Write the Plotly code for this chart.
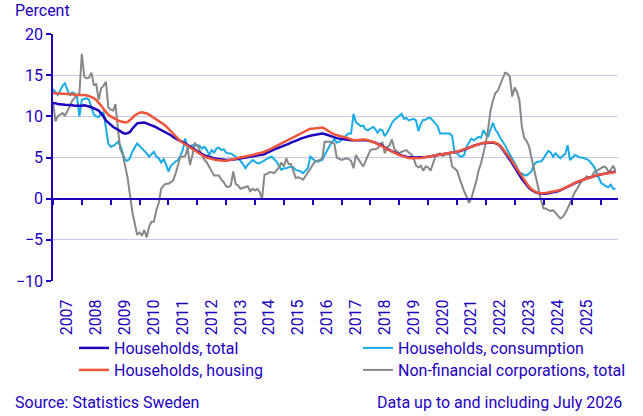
import pandas as pd
import plotly.graph_objects as go

months = pd.date_range("2007-01-01", "2026-07-01", freq="MS")

households_total = [
    11.6, 11.6, 11.5, 11.5, 11.45, 11.4, 11.4, 11.4, 11.35, 11.3, 11.3, 11.25,
    11.3, 11.35, 11.3, 11.2, 11.1, 11.0, 10.85, 10.7, 10.4, 10.0, 9.5, 9.2,
    8.9, 8.7, 8.55, 8.4, 8.2, 8.0, 7.9, 7.95, 8.1, 8.5, 8.9, 9.15,
    9.2, 9.25, 9.25, 9.15, 9.0, 8.9, 8.8, 8.65, 8.5, 8.35, 8.15, 8.0,
    7.85, 7.7, 7.5, 7.3, 7.15, 7.0, 6.9, 6.7, 6.5, 6.3, 6.1, 5.95,
    5.75, 5.55, 5.4, 5.25, 5.15, 5.05, 5.0, 4.9, 4.85, 4.8, 4.75, 4.7,
    4.7, 4.7, 4.7, 4.75, 4.8, 4.85, 4.9, 4.95, 5.0, 5.05, 5.1, 5.1,
    5.15, 5.2, 5.25, 5.3, 5.4, 5.55, 5.7, 5.85, 6.0, 6.1, 6.2, 6.3,
    6.4, 6.5, 6.65, 6.8, 6.9, 7.0, 7.15, 7.3, 7.4, 7.5, 7.6, 7.65,
    7.7, 7.75, 7.8, 7.9, 7.9, 7.85, 7.75, 7.6, 7.5, 7.4, 7.35, 7.3,
    7.25, 7.2, 7.15, 7.1, 7.1, 7.1, 7.1, 7.15, 7.15, 7.15, 7.1, 7.05,
    7.0, 6.9, 6.8, 6.7, 6.55, 6.4, 6.2, 6.05, 5.9, 5.75, 5.6, 5.45,
    5.35, 5.25, 5.15, 5.1, 5.05, 5.0, 5.0, 5.0, 5.0, 5.0, 5.05, 5.05,
    5.1, 5.15, 5.2, 5.25, 5.3, 5.35, 5.4, 5.45, 5.5, 5.5, 5.55, 5.6,
    5.65, 5.75, 5.85, 5.95, 6.05, 6.2, 6.3, 6.45, 6.55, 6.65, 6.7, 6.75,
    6.75, 6.8, 6.8, 6.8, 6.75, 6.6, 6.4, 6.0, 5.6, 5.2, 4.8, 4.3,
    3.8, 3.4, 2.9, 2.4, 2.0, 1.6, 1.3, 1.05, 0.85, 0.75, 0.65, 0.6,
    0.6, 0.6, 0.65, 0.7, 0.75, 0.8, 0.9, 1.0, 1.15, 1.3, 1.5, 1.65,
    1.8, 1.9, 2.0, 2.1, 2.25, 2.35, 2.45, 2.55, 2.65, 2.75, 2.85, 2.9,
    2.95, 3.0, 3.05, 3.1, 3.15, 3.2, 3.3,
]

households_consumption = [
    13.3, 12.9, 12.6, 13.1, 13.7, 14.0, 13.2, 12.5, 12.9, 12.8, 12.4, 10.0,
    12.0, 12.1, 12.2, 12.0, 11.2, 10.2, 10.0, 9.9, 10.4, 10.5, 8.6, 6.7,
    6.3, 6.4, 6.6, 6.9, 6.5, 5.6, 4.7, 4.6, 4.9, 5.7, 6.3, 6.7,
    6.4, 6.1, 5.9, 5.5, 5.1, 5.4, 5.7, 5.1, 4.9, 4.4, 4.8, 4.2,
    3.3, 4.0, 4.3, 4.5, 4.7, 5.2, 5.9, 7.3, 6.1, 6.3, 6.5, 6.4,
    6.5, 6.4, 6.1, 6.3, 5.9, 5.3, 5.9, 5.6, 6.1, 6.2, 5.9, 6.0,
    5.6, 5.5, 5.5, 5.3, 5.1, 4.9, 4.6, 4.2, 3.7, 4.1, 4.4, 4.7,
    4.5, 4.3, 4.3, 4.5, 4.7, 4.9, 5.0, 5.1, 4.8, 4.5, 4.0, 3.5,
    3.7, 3.7, 3.8, 3.9, 3.8, 3.5, 3.4, 3.3, 3.1, 3.4, 3.7, 5.1,
    4.8, 4.6, 4.5, 4.6, 4.7, 5.3, 5.8, 6.4, 6.9, 7.2, 6.8, 6.9,
    7.1, 7.4, 7.7, 7.9, 7.9, 10.3, 9.3, 9.1, 8.8, 8.9, 8.4, 8.3,
    8.5, 8.7, 8.5, 8.0, 8.4, 8.3, 7.6, 8.0, 8.6, 9.2, 9.6, 9.8,
    10.0, 10.3, 9.7, 9.8, 9.5, 9.6, 9.7, 9.5, 8.2, 9.1, 9.6, 9.6,
    9.8, 9.8, 9.5, 9.2, 8.8, 7.9, 7.9, 7.9, 7.9, 7.9, 7.6, 5.6,
    5.5, 5.2, 5.1, 5.3, 6.3, 6.9, 7.3, 7.1, 7.3, 7.5, 7.4, 8.3,
    7.8, 7.6, 8.4, 9.2, 8.4, 8.0, 7.4, 7.0, 6.5, 5.9, 5.4, 4.8,
    4.4, 3.8, 3.2, 3.0, 2.9, 2.8, 3.0, 3.3, 4.1, 4.4, 4.5, 4.5,
    4.9, 5.3, 5.8, 5.6, 5.1, 5.5, 5.2, 4.9, 5.2, 5.4, 6.5, 4.7,
    5.0, 5.3, 5.2, 5.0, 5.0, 4.9, 4.8, 4.6, 4.3, 3.9, 3.2, 2.5,
    1.9, 1.7, 1.5, 1.4, 1.7, 1.2, 1.2,
]

households_housing = [
    12.85, 12.8, 12.8, 12.75, 12.75, 12.7, 12.7, 12.7, 12.65, 12.65, 12.6, 12.6,
    12.6, 12.6, 12.55, 12.45, 12.35, 12.2, 12.0, 11.7, 11.3, 10.9, 10.5, 10.2,
    10.0, 9.8, 9.6, 9.5, 9.4, 9.3, 9.25, 9.3, 9.5, 9.8, 10.1, 10.3,
    10.45, 10.5, 10.45, 10.35, 10.2, 10.0, 9.85, 9.7, 9.5, 9.3, 9.05, 8.8,
    8.5, 8.2, 7.9, 7.55, 7.25, 7.0, 6.8, 6.6, 6.4, 6.2, 6.0, 5.8,
    5.6, 5.4, 5.25, 5.1, 5.0, 4.9, 4.8, 4.75, 4.7, 4.65, 4.6, 4.6,
    4.6, 4.65, 4.7, 4.8, 4.85, 4.95, 5.0, 5.05, 5.15, 5.2, 5.25, 5.3,
    5.4, 5.45, 5.5, 5.6, 5.7, 5.8, 5.95, 6.1, 6.25, 6.4, 6.55, 6.7,
    6.85, 7.0, 7.15, 7.3, 7.5, 7.65, 7.8, 7.95, 8.1, 8.25, 8.4, 8.5,
    8.5, 8.55, 8.6, 8.65, 8.65, 8.5, 8.3, 8.1, 7.95, 7.8, 7.7, 7.6,
    7.55, 7.5, 7.4, 7.3, 7.2, 7.1, 7.1, 7.15, 7.2, 7.2, 7.15, 7.1,
    7.0, 6.9, 6.8, 6.65, 6.5, 6.35, 6.15, 6.0, 5.85, 5.7, 5.55, 5.4,
    5.3, 5.2, 5.1, 5.0, 4.95, 4.9, 4.9, 4.9, 4.9, 4.95, 5.0, 5.05,
    5.1, 5.1, 5.15, 5.2, 5.25, 5.3, 5.35, 5.4, 5.45, 5.5, 5.55, 5.6,
    5.7, 5.8, 5.9, 6.0, 6.1, 6.2, 6.35, 6.45, 6.55, 6.65, 6.7, 6.75,
    6.8, 6.85, 6.85, 6.85, 6.8, 6.65, 6.45, 6.1, 5.75, 5.35, 4.95, 4.5,
    4.05, 3.6, 3.1, 2.65, 2.2, 1.8, 1.45, 1.15, 0.95, 0.8, 0.7, 0.65,
    0.65, 0.7, 0.75, 0.8, 0.85, 0.9, 0.95, 1.05, 1.2, 1.35, 1.5, 1.65,
    1.8, 1.9, 2.05, 2.15, 2.25, 2.4, 2.5, 2.6, 2.7, 2.8, 2.85, 2.9,
    2.95, 3.0, 3.05, 3.1, 3.15, 3.2, 3.25,
]

nonfinancial_corporations = [
    11.8, 9.4, 10.0, 10.2, 10.4, 10.1, 10.6, 11.2, 11.9, 12.3, 12.6, 12.8,
    17.6, 14.8, 14.6, 14.7, 15.3, 13.8, 13.9, 12.0, 13.4, 13.7, 14.2, 11.1,
    10.8, 10.7, 11.5, 8.6, 6.0, 5.4, 4.0, 2.6, 0.5, -1.6, -3.0, -4.4,
    -4.1, -4.5, -3.8, -4.7, -3.4, -2.8, -2.8, -1.4, -0.5, 1.2, 1.6, 1.8,
    1.8, 2.0, 2.2, 3.0, 4.1, 5.1, 5.1, 5.2, 6.1, 4.1, 5.3, 6.7,
    6.5, 5.9, 5.2, 4.7, 4.4, 3.8, 3.2, 2.8, 2.8, 2.8, 2.3, 2.0,
    1.5, 1.4, 1.6, 3.3, 1.8, 1.6, 1.2, 1.3, 1.4, 1.5, 0.9, 1.2,
    1.0, 1.2, 0.8, 0.0, 2.9, 3.0, 3.2, 3.2, 3.1, 3.4, 3.8, 4.4,
    3.9, 4.9, 4.2, 4.2, 3.3, 2.5, 2.6, 2.5, 2.3, 2.7, 3.2, 3.6,
    4.1, 4.5, 4.6, 4.7, 4.9, 6.9, 6.9, 6.9, 6.8, 6.7, 5.0, 4.8,
    4.7, 4.8, 4.9, 4.8, 4.6, 3.7, 5.3, 4.8, 4.4, 3.9, 4.6, 5.3,
    5.9, 6.0, 6.0, 6.1, 6.5, 6.9, 5.5, 6.2, 6.5, 7.2, 6.0, 5.7,
    5.5, 5.7, 5.8, 5.9, 5.6, 5.4, 5.0, 4.0, 3.8, 4.0, 3.4, 3.9,
    3.8, 3.4, 4.2, 5.1, 5.4, 5.5, 5.2, 5.3, 5.4, 5.5, 3.9, 3.6,
    3.4, 2.5, 1.6, 0.9, 0.3, -0.5, 0.0, 1.0, 2.1, 3.4, 4.3, 5.5,
    6.8, 8.6, 10.7, 11.9, 12.8, 13.1, 13.8, 14.5, 15.3, 15.2, 14.8, 12.4,
    13.5, 12.9, 12.0, 8.8, 7.4, 7.0, 6.4, 5.0, 3.6, 2.3, 1.0, -0.2,
    -1.2, -1.2, -1.4, -1.5, -1.4, -1.7, -2.0, -2.4, -2.2, -1.8, -1.2, -0.5,
    0.1, 0.8, 1.2, 1.8, 2.2, 2.4, 2.7, 2.6, 2.6, 3.2, 3.4, 3.6,
    3.7, 3.9, 3.8, 3.3, 3.5, 4.0, 3.4,
]

year_labels = [str(y) for y in range(2007, 2026)]
label_positions = [f"{y}-07-01" for y in range(2007, 2026)]
tick_positions = [f"{y}-01-01" for y in range(2007, 2027)]

TEXT = "#1E00BE"
GRID = "#C8C8EE"
FONT = "Roboto"
FS = 16

fig = go.Figure()
# (name, values, colour, width, legend id)
series = [
    ("Households, consumption", households_consumption, "#19ABE6", 2.0, "legend2"),
    ("Non-financial corporations, total", nonfinancial_corporations, "#878787", 2.0, "legend4"),
    ("Households, total", households_total, "#1E00BE", 2.5, "legend"),
    ("Households, housing", households_housing, "#F0553C", 2.5, "legend3"),
]
for name, vals, color, w, leg in series:
    fig.add_trace(go.Scatter(
        x=months, y=vals, name=name, mode="lines",
        line=dict(color=color, width=w), legend=leg,
    ))

# invisible trace for the zero-line axis with year tick marks
fig.add_trace(go.Scatter(
    x=months, y=households_total, xaxis="x2", mode="lines",
    line=dict(width=0), opacity=0, showlegend=False, hoverinfo="skip",
))

x_range = ["2007-01-01", "2026-08-01"]
legend_common = dict(
    orientation="v", yanchor="top", xanchor="left",
    xref="container", yref="container",
    font=dict(family=FONT, size=FS, color=TEXT),
    bgcolor="rgba(0,0,0,0)", itemwidth=30,
)
row1 = 1 - 331 / 416
row2 = 1 - 353 / 416
col1 = 74 / 643
col2 = 358 / 643
fig.update_layout(
    template="none",
    width=643, height=416,
    margin=dict(l=53, r=25, t=34, b=135, autoexpand=False),
    paper_bgcolor="white", plot_bgcolor="white",
    font=dict(family=FONT, size=FS, color=TEXT),
    showlegend=True,
    xaxis=dict(
        type="date", range=x_range, automargin=False,
        tickmode="array", tickvals=label_positions, ticktext=year_labels,
        tickangle=-90, ticks="outside", ticklen=11, tickcolor="rgba(0,0,0,0)",
        showgrid=False, showline=False, zeroline=False,
        tickfont=dict(family=FONT, size=FS, color=TEXT),
    ),
    xaxis2=dict(
        type="date", range=x_range, overlaying="x", anchor="free", position=1/3,
        tickmode="array", tickvals=tick_positions, showticklabels=False,
        ticks="outside", ticklen=6, tickcolor=TEXT, tickwidth=1.5,
        showline=True, linecolor=TEXT, linewidth=1.5,
        showgrid=False, zeroline=False, automargin=False,
    ),
    yaxis=dict(
        range=[-10, 20], tickmode="array", tickvals=[-10, -5, 0, 5, 10, 15, 20],
        showgrid=True, gridcolor=GRID, gridwidth=1, automargin=False,
        showline=True, linecolor=TEXT, linewidth=1.5,
        ticks="outside", ticklen=5, tickcolor=TEXT, tickwidth=1.5,
        zeroline=False,
        tickfont=dict(family=FONT, size=FS, color=TEXT),
    ),
    legend=dict(x=col1, y=row1, **legend_common),
    legend2=dict(x=col2, y=row1, **legend_common),
    legend3=dict(x=col1, y=row2, **legend_common),
    legend4=dict(x=col2, y=row2, **legend_common),
    annotations=[
        dict(text="Percent", xref="paper", yref="paper", x=-0.0708, y=1.097,
             xanchor="left", yanchor="middle", showarrow=False,
             font=dict(family=FONT, size=FS, color=TEXT)),
        dict(text="Source: Statistics Sweden", xref="paper", yref="paper",
             x=-0.0708, y=-0.49, xanchor="left", yanchor="middle", showarrow=False,
             font=dict(family=FONT, size=FS, color=TEXT)),
        dict(text="Data up to and including July 2026", xref="paper", yref="paper",
             x=1.0106, y=-0.49, xanchor="right", yanchor="middle", showarrow=False,
             font=dict(family=FONT, size=FS, color=TEXT)),
    ],
)

fig.write_html(
    "out.html",
    config={"displayModeBar": False},
    post_script="document.body.style.margin='0';document.body.style.overflow='hidden';",
)
